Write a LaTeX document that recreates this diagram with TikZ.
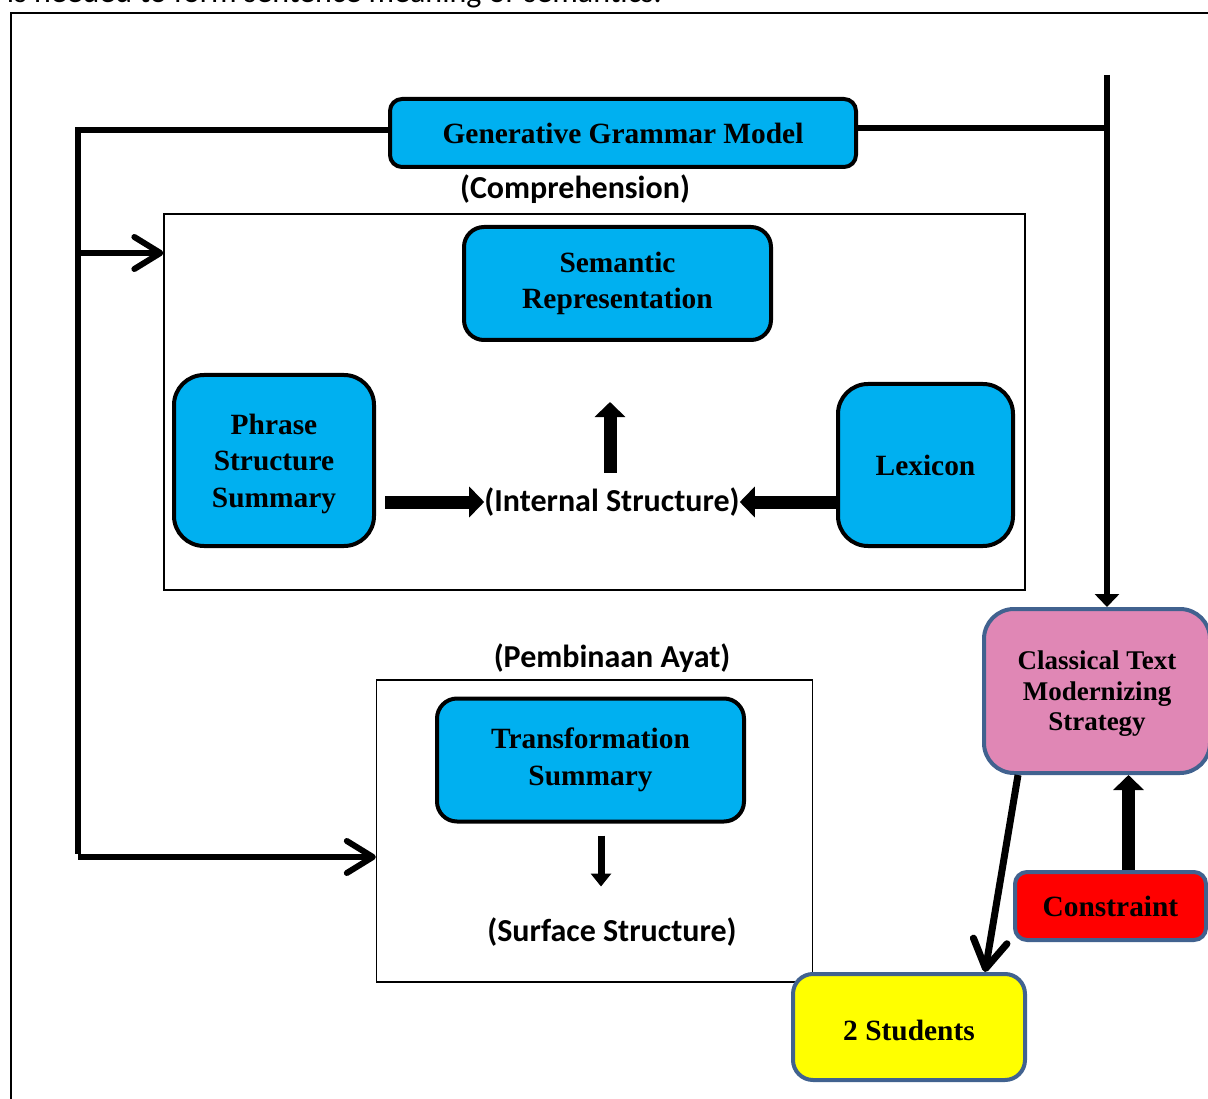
\documentclass[tikz,border=0pt]{standalone}
\usepackage{fontspec}
\setmainfont{Liberation Serif}
\newfontfamily\calfont{Carlito}
\usetikzlibrary{arrows.meta, positioning}

\definecolor{boxcyan}{HTML}{00B0F0}
\definecolor{boxpink}{HTML}{E087B5}
\definecolor{edgeblue}{HTML}{41628F}
\definecolor{boxred}{HTML}{FF0000}
\definecolor{boxyellow}{HTML}{FFFF00}

\newcommand\boxfont{\fontsize{29.4}{36.5}\selectfont\bfseries}
\newcommand\smallboxfont{\fontsize{27}{30.5}\selectfont\bfseries}
\newcommand\lblfont{\calfont\fontsize{32}{36}\selectfont\bfseries}

\tikzset{
  cyanbox/.style={draw=black, line width=4pt, fill=boxcyan, align=center, font=\boxfont, inner sep=0pt},
  edgebox/.style={draw=edgeblue, line width=4pt, align=center, font=\boxfont, inner sep=0pt},
  framebox/.style={draw, line width=1.3pt, inner sep=0pt},
  lbl/.style={font=\lblfont, inner sep=0pt},
  trunk/.style={line width=6pt},
  barb/.style={line width=6pt, -{Straight Barb[length=26pt,width=32pt,round]}},
  block/.style={line width=13pt, -{Triangle[length=15pt,width=30pt]}},
}

\begin{document}
\begin{tikzpicture}[x=1pt,y=-1pt]
  \useasboundingbox (0,0) rectangle (1208,1099);
  \clip (0,0) rectangle (1208,1099);

  % text of the page above
  \node[anchor=base east, inner sep=0pt, font=\calfont\fontsize{32}{36}\selectfont] (pagetext) at (662,3) {is needed to form sentence meaning or semantics.};
  \draw[line width=2pt] (11,1120) -- (11,13) -- (1230,13);

  % frames
  \node[framebox, minimum width=861pt, minimum height=376pt] (comp) at (594.5,402) {};
  \node[framebox, minimum width=436pt, minimum height=302pt] (pa) at (594.5,831) {};
  \node[lbl] (complbl) at (575,189) {(Comprehension)};
  \node[lbl] (palbl) at (612,658) {(Pembinaan Ayat)};

  % boxes
  \node[cyanbox, rounded corners=12pt, minimum width=466pt, minimum height=68pt] (ggm) at (623,133) {Generative Grammar Model};
  \node[cyanbox, rounded corners=20pt, minimum width=307pt, minimum height=113pt] (sem) at (617.5,283.5) {Semantic\\Representation};
  \node[cyanbox, rounded corners=30pt, minimum width=200pt, minimum height=171pt] (pss) at (274,460.5) {\raisebox{-3pt}[\height][\depth]{\parbox{190pt}{\centering Phrase\\Structure\\Summary}}};
  \node[cyanbox, rounded corners=30pt, minimum width=175pt, minimum height=162pt] (lex) at (925.5,465) {Lexicon};
  \node[cyanbox, rounded corners=20pt, minimum width=307pt, minimum height=123pt] (ts) at (590.5,760) {Transformation\\Summary};
  \node[edgebox, fill=boxpink, font=\smallboxfont, rounded corners=30pt, minimum width=226pt, minimum height=164pt] (cts) at (1097,691) {\raisebox{-3pt}[\height][\depth]{\parbox{215pt}{\centering Classical Text\\Modernizing\\Strategy}}};
  \node[edgebox, fill=boxred, rounded corners=12pt, minimum width=191pt, minimum height=68pt] (con) at (1110.5,906) {Constraint};
  \node[edgebox, fill=boxyellow, rounded corners=20pt, minimum width=232pt, minimum height=106pt] (stu) at (909,1027) {\raisebox{-3pt}[\height][\depth]{2 Students}};

  % inner labels
  \node[lbl] (is) at (612,502) {(Internal Structure)};
  \node[lbl] (ss) at (612,932) {(Surface Structure)};

  % trunks
  \coordinate (ltop) at (78,130);
  \coordinate (lmid) at (78,253);
  \coordinate (lbot) at (78,857);
  \coordinate (rtop) at (1107,75);
  \coordinate (rj) at (1107,128);
  \draw[trunk] (ltop -| ggm.west) -- (ltop) -- ([yshift=3pt]lbot);
  \draw[barb] (lmid) -- (lmid -| comp.west);
  \draw[barb] (lbot) -- (lbot -| pa.west);
  \draw[trunk] (rj -| ggm.east) -- (rj);
  \draw[trunk, -{Triangle[length=13pt,width=24pt]}] (rtop) -- (rtop |- cts.north);

  % block arrows
  \draw[block] ([xshift=9pt]pss.east |- is.west) -- (is.west);
  \draw[block] (lex.west |- is.east) -- (is.east);
  \draw[block, shorten <=15pt, shorten >=60pt] (is.north -| 610,0) -- (sem.south -| 610,0);
  \draw[line width=7pt, -{Triangle[length=13pt,width=20pt]}, shorten <=12pt, shorten >=31pt] (ts.south -| 601,0) -- (ss.north -| 601,0);
  \draw[block] ([xshift=18pt]con.north) -- ([xshift=18pt]con.north |- cts.south);
  \draw[line width=7pt, -{Straight Barb[length=28pt,width=34pt,round]}] ([xshift=-79pt]cts.south) -- ([xshift=76pt]stu.north);
\end{tikzpicture}
\end{document}
